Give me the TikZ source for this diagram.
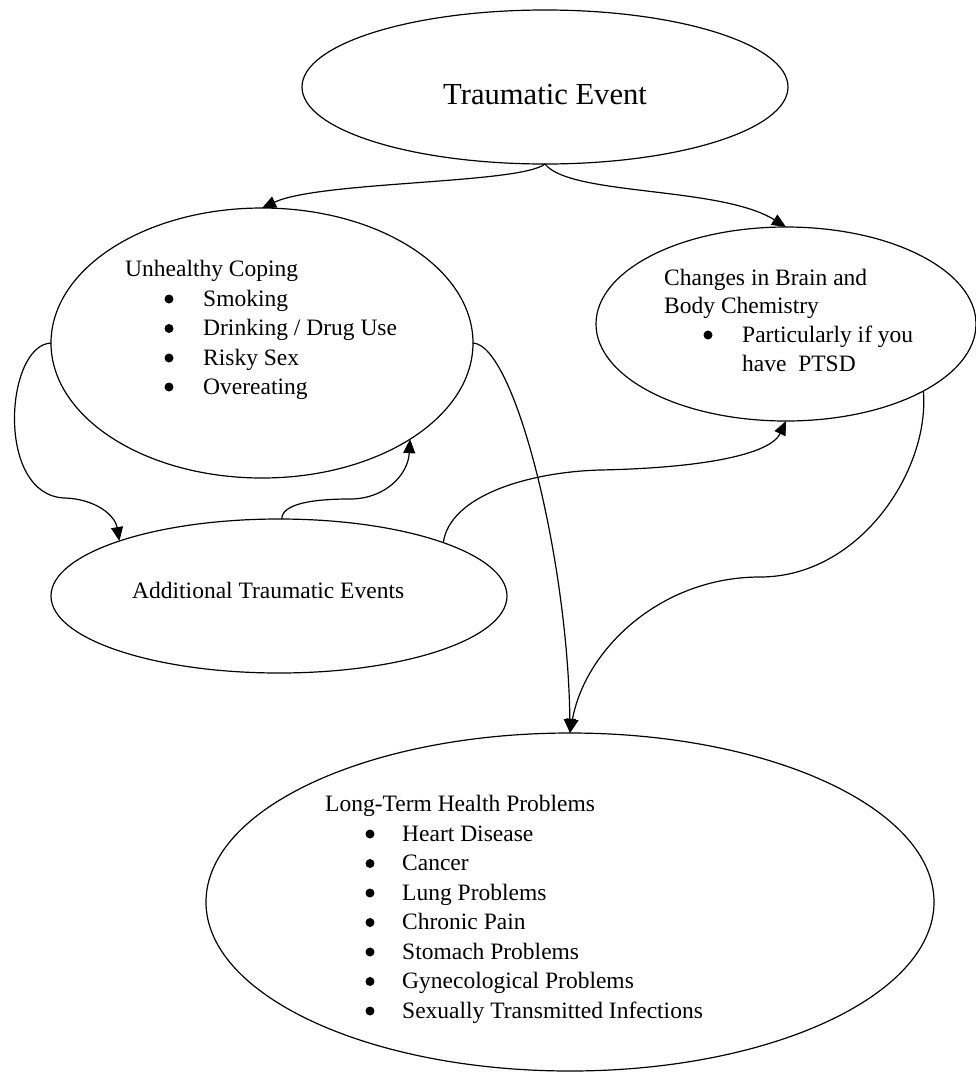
\documentclass[tikz,border=0pt]{standalone}
\usepackage{fontspec}
\setmainfont{Liberation Serif}
\usetikzlibrary{shapes.geometric,arrows.meta}
\begin{document}
\begin{tikzpicture}[x=1pt,y=-1pt,
  bubble/.style={draw, ellipse, line width=1.2pt, inner sep=0pt, outer sep=0pt},
  txt/.style={anchor=base west, inner sep=0pt, font=\fontsize{23.5}{28}\selectfont},
  bul/.style={circle, fill, inner sep=0pt, minimum size=9pt},
  link/.style={line width=1.2pt, -{Triangle[length=14pt,width=12pt]}}]
\useasboundingbox (0,0) rectangle (976,1072);

% ellipses
\node[bubble, minimum width=486pt, minimum height=154pt] (tr)  at (545,87)  {};
\node[bubble, minimum width=422pt, minimum height=270pt] (unh) at (262,343) {};
\node[bubble, minimum width=380pt, minimum height=194pt] (chg) at (786,324) {};
\node[bubble, minimum width=456pt, minimum height=154pt] (add) at (279,596) {};
\node[bubble, minimum width=728pt, minimum height=338pt] (lt)  at (570,902) {};

% texts
\node[txt, font=\fontsize{30.6}{36}\selectfont] (t-tr) at (443,104) {Traumatic Event};

\node[txt] (t-unh) at (125,276) {Unhealthy Coping};
\node[bul] (b-unh1) at (169,299) {};
\node[txt] (i-unh1) at (203,306) {Smoking};
\node[bul] (b-unh2) at (169,328.5) {};
\node[txt] (i-unh2) at (203,335.5) {Drinking / Drug Use};
\node[bul] (b-unh3) at (169,358) {};
\node[txt] (i-unh3) at (203,365) {Risky Sex};
\node[bul] (b-unh4) at (169,387) {};
\node[txt] (i-unh4) at (203,394) {Overeating};

\node[txt] (t-chg1) at (664,285) {Changes in Brain and};
\node[txt] (t-chg2) at (664,313) {Body Chemistry};
\node[bul] (b-chg1) at (708,335) {};
\node[txt] (i-chg1) at (742,342) {Particularly if you};
\node[txt] (i-chg2) at (742,371) {have\ \ PTSD};

\node[txt] (t-add) at (132,598) {Additional Traumatic Events};

\node[txt] (t-lt) at (325,811) {Long-Term Health Problems};
\node[bul] (b-lt1) at (370,834) {};
\node[txt] (i-lt1) at (402,841) {Heart Disease};
\node[bul] (b-lt2) at (370,863.5) {};
\node[txt] (i-lt2) at (402,870.5) {Cancer};
\node[bul] (b-lt3) at (370,893) {};
\node[txt] (i-lt3) at (402,900) {Lung Problems};
\node[bul] (b-lt4) at (370,922.5) {};
\node[txt] (i-lt4) at (402,929.5) {Chronic Pain};
\node[bul] (b-lt5) at (370,952) {};
\node[txt] (i-lt5) at (402,959) {Stomach Problems};
\node[bul] (b-lt6) at (370,981.5) {};
\node[txt] (i-lt6) at (402,988.5) {Gynecological Problems};
\node[bul] (b-lt7) at (370,1011) {};
\node[txt] (i-lt7) at (402,1018) {Sexually Transmitted Infections};

% connectors
\draw[link] (tr.south) .. controls (520,184) and (320,181) .. (unh.north);
\draw[link] (tr.south) .. controls (570,196) and (720,186) .. (chg.north);
\draw[link] (unh.west) .. controls (5,345) and (-5,496) .. (65,498)
                       .. controls (95,499) and (115,515) .. (add.161);
\draw[link] (add.88) .. controls (282,500) and (330,499) .. (350,499)
                     .. controls (385,499) and (408,475) .. (unh.-33);
\draw[link] (add.18) .. controls (450,495) and (530,472) .. (600,470)
                     .. controls (700,468) and (770,455) .. (chg.south);
\draw[link] (unh.east) .. controls (515,345) and (568,560) .. (lt.north);
\draw[link] (chg.-26) .. controls (930,470) and (860,577) .. (760,577)
                      .. controls (660,577) and (585,650) .. (lt.north);
\end{tikzpicture}
\end{document}
